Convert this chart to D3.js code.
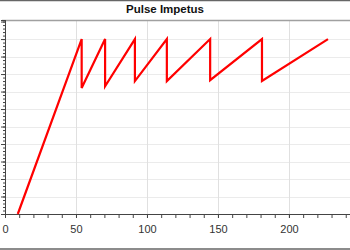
<!DOCTYPE html>
<html>
<head>
<meta charset="utf-8">
<script src="https://cdn.jsdelivr.net/npm/d3@7"></script>
<style>
  body { margin: 0; background: #fff; }
  svg { display: block; font-family: "Liberation Sans", Arial, sans-serif; }
</style>
</head>
<body>
<div id="chart"></div>
<script>
// data (sawtooth pulse)
const timeValues  = [9, 54, 54, 70.5, 70.5, 91.5, 91.5, 114, 114, 144.5, 144.5, 181, 181, 227.5];
const impetusValues = [0, 10, 7.2, 10, 7.3, 10, 7.6, 10, 7.6, 10, 7.65, 10, 7.6, 10];
const xTickLabels = [0, 50, 100, 150, 200];
const chartTitle = "Pulse Impetus";

const width = 350, height = 250;
const margin = { top: 20, right: 0, bottom: 36, left: 5 };

const svg = d3.select("#chart").append("svg")
  .attr("width", width)
  .attr("height", height);

const x = d3.scaleLinear()
  .domain([0, 243])
  .range([margin.left, width - margin.right]);

const y = d3.scaleLinear()
  .domain([0, 11.09])
  .range([height - margin.bottom, margin.top]);

// outer panel lines
svg.append("line").attr("x1", 0).attr("x2", width).attr("y1", 0.5).attr("y2", 0.5)
  .attr("stroke", "#666").attr("stroke-width", 1.5);
svg.append("line").attr("x1", 0).attr("x2", width).attr("y1", height - 1).attr("y2", height - 1)
  .attr("stroke", "#666").attr("stroke-width", 1.5);

// title
svg.append("text")
  .attr("x", 165)
  .attr("y", 12.5)
  .attr("text-anchor", "middle")
  .style("font-size", "11.5px")
  .style("font-weight", "bold")
  .attr("fill", "#111")
  .text(chartTitle);

// gridlines
const grid = svg.append("g");
grid.selectAll("line.h")
  .data(d3.range(1, 11))
  .enter().append("line")
  .attr("x1", margin.left).attr("x2", width)
  .attr("y1", d => Math.round(y(d)) + 0.5)
  .attr("y2", d => Math.round(y(d)) + 0.5)
  .attr("stroke", "#ebebeb");
grid.selectAll("line.v")
  .data(xTickLabels.slice(1))
  .enter().append("line")
  .attr("x1", d => Math.round(x(d)) + 0.5).attr("x2", d => Math.round(x(d)) + 0.5)
  .attr("y1", margin.top).attr("y2", y(0))
  .attr("stroke", "#e0e0e0");

// top border of plot
svg.append("line")
  .attr("x1", 2).attr("x2", width)
  .attr("y1", margin.top + 0.5).attr("y2", margin.top + 0.5)
  .attr("stroke", "#a0a0a0").attr("stroke-width", 1.5);

// x axis
const xAxisG = svg.append("g")
  .attr("transform", "translate(0," + y(0) + ")");
xAxisG.call(d3.axisBottom(x).tickValues(d3.range(0, 241, 10)).tickSize(4).tickFormat(""));
xAxisG.append("g").call(d3.axisBottom(x).tickValues(xTickLabels).tickSize(4).tickPadding(7));
xAxisG.selectAll(".domain").attr("stroke", "#444");
xAxisG.selectAll(".tick line").attr("stroke", "#444");
xAxisG.selectAll("text").attr("fill", "#333").style("font-size", "11px")
  .style("font-family", "'Liberation Sans', Arial, sans-serif");

// y axis (no labels)
const yAxisG = svg.append("g")
  .attr("transform", "translate(" + margin.left + ",0)");
yAxisG.call(d3.axisLeft(y).tickValues(d3.range(0, 11.01, 0.2)).tickSize(2).tickFormat(""));
yAxisG.append("g").call(d3.axisLeft(y).tickValues(d3.range(0, 12, 1)).tickSize(4).tickFormat(""));
yAxisG.selectAll(".domain").attr("stroke", "#444");
yAxisG.selectAll(".tick line").attr("stroke", "#444");

// series
const points = timeValues.map((t, i) => [t, impetusValues[i]]);
const line = d3.line()
  .x(d => x(d[0]))
  .y(d => y(d[1]));

svg.append("path")
  .datum(points)
  .attr("d", line)
  .attr("fill", "none")
  .attr("stroke", "#ff0000")
  .attr("stroke-width", 2.2)
  .attr("stroke-linejoin", "miter");
</script>
</body>
</html>
